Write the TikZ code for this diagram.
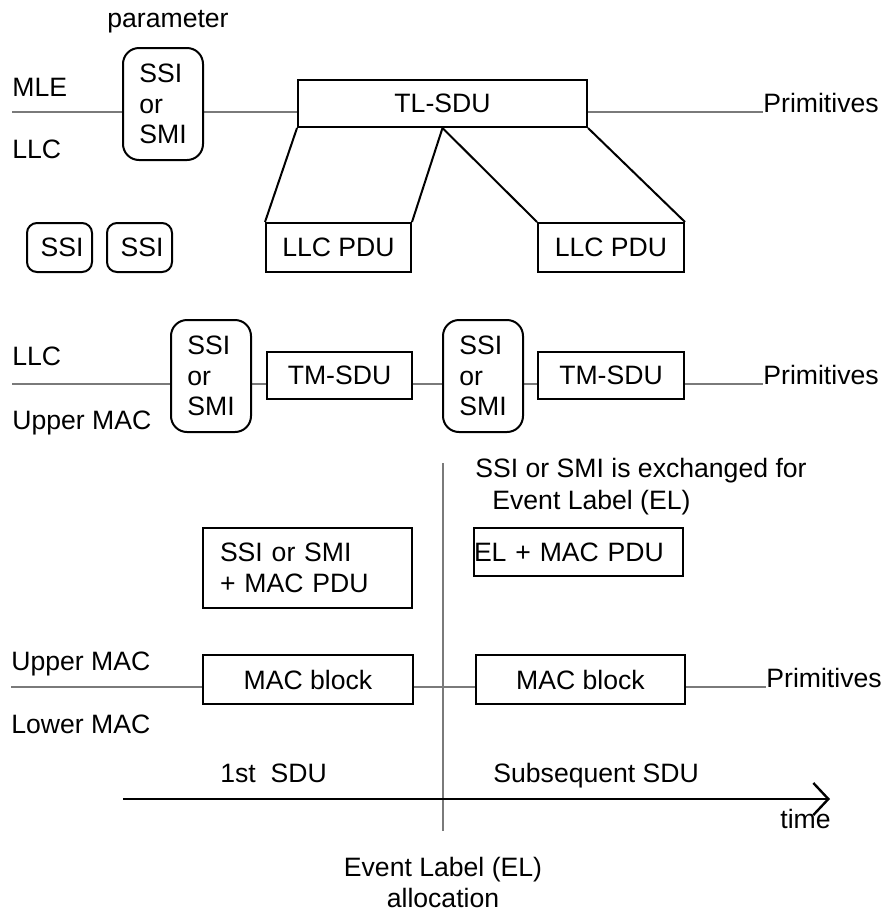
\documentclass[tikz,border=0pt]{standalone}
\usepackage{fontspec}
\setmainfont{Liberation Sans}
\usetikzlibrary{arrows.meta,positioning,backgrounds}
\definecolor{Rule}{HTML}{7A7A7A}
\begin{document}
\begin{tikzpicture}[x=0.5pt,y=-0.5pt,
    font=\fontsize{13.3}{15.25}\selectfont,
    lbl/.style={inner sep=0pt,anchor=base west},
    box/.style={draw,line width=1pt,fill=white,inner sep=0pt,minimum height=23.5pt},
    rbox/.style={draw,line width=1pt,fill=white,rounded corners=8pt,inner sep=0pt,align=left,minimum width=40pt,minimum height=56pt},
    sbox/.style={draw,line width=1pt,rounded corners=5pt,inner sep=0pt,minimum width=32.5pt,minimum height=24.5pt},
    ln/.style={draw=Rule,line width=0.7pt},
    fan/.style={line width=1pt},
    a/.style={line width=1.2pt,-{Straight Barb[length=7.5pt,width=16pt]}}]
    \useasboundingbox (0,0) rectangle (885,911);
    \node[lbl,anchor=base] (param) at (168,27) {parameter};
    \node[lbl] (mle) at (12,96) {MLE};
    \node[lbl] (llcA) at (12,158) {LLC};
    \node[rbox] (parA) at (163,104) {SSI\\or\\SMI};
    \node[box,minimum width=144.5pt] (tl) at (442.5,103.5) {TL-SDU};
    \node[lbl] (primA) at (763,112) {Primitives};
    \node[box,minimum width=72.5pt,minimum height=24.5pt] (pduA) at (338.5,247.5) {LLC PDU};
    \node[box,minimum width=73pt,minimum height=24.5pt] (pduB) at (611,247.5) {LLC PDU};
    \node[sbox] (ssiA) at (59.5,247.5) {\hspace*{2.5pt}SSI};
    \node[sbox] (ssiB) at (139.5,247.5) {\hspace*{2.5pt}SSI};
    \draw[fan] (tl.south west) -- (pduA.north west) (tl.south) -- (pduA.north east)
      (tl.south) -- (pduB.north west) (tl.south east) -- (pduB.north east);
    \node[lbl] (llcB) at (12,365) {LLC};
    \node[lbl] (umacA) at (12,429) {Upper MAC};
    \node[rbox] (parB) at (211,376) {SSI\\or\\SMI};
    \node[box,minimum width=72.5pt] (tmA) at (339.5,375.5) {TM-SDU};
    \node[rbox] (parC) at (483,376) {SSI\\or\\SMI};
    \node[box,minimum width=73pt] (tmB) at (611,375.5) {TM-SDU};
    \node[lbl] (primB) at (763,384) {Primitives};
    \node[lbl,align=left,font=\fontsize{13.3}{16}\selectfont] (xchg) at (475,509) {SSI or SMI is exchanged for\\\hspace*{8.5pt}Event Label (EL)};
    \node[box,minimum height=40pt,text width=87.5pt,inner xsep=8.5pt,align=left] (ssipdu) at (307.5,568) {SSI or SMI\\+ MAC PDU};
    \node[box,minimum height=24pt,text width=104.5pt,align=left] (elpdu) at (578.5,552) {EL + MAC PDU};
    \node[lbl] (umacB) at (11,670) {Upper MAC};
    \node[lbl] (lmac) at (11,733) {Lower MAC};
    \node[box,minimum width=105pt,minimum height=24.5pt] (macA) at (308,679.5) {MAC block};
    \node[box,minimum width=104.5pt,minimum height=24.5pt] (macB) at (580.5,679.5) {MAC block};
    \node[lbl] (primC) at (766,687) {Primitives};
    \node[lbl] (first) at (220,782) {1st\ \ SDU};
    \node[lbl] (later) at (493,782) {Subsequent SDU};
    \node[lbl] (time) at (780,828) {time};
    \node[lbl,anchor=base,align=center] (alloc) at (443,907) {Event Label (EL)\\allocation};
    \coordinate (mleL) at (12,112);
    \coordinate (llcL) at (12,384);
    \coordinate (macL) at (11,687);
    \coordinate (elTop) at (443,463);
    \coordinate (elBot) at (443,831);
    \coordinate (t0) at (123,799);
    \coordinate (t1) at (830,799);
    \begin{scope}[on background layer]
      \fill[white] (0,0) rectangle (885,911);
      \draw[ln] (mleL) -- (primA.base west);
      \draw[ln] (llcL) -- (primB.base west);
      \draw[ln] (macL) -- (primC.base west);
    \end{scope}
    \draw[ln] (elTop) -- (elBot);
    \draw[a] (t0) -- (t1);
  \end{tikzpicture}
\end{document}
